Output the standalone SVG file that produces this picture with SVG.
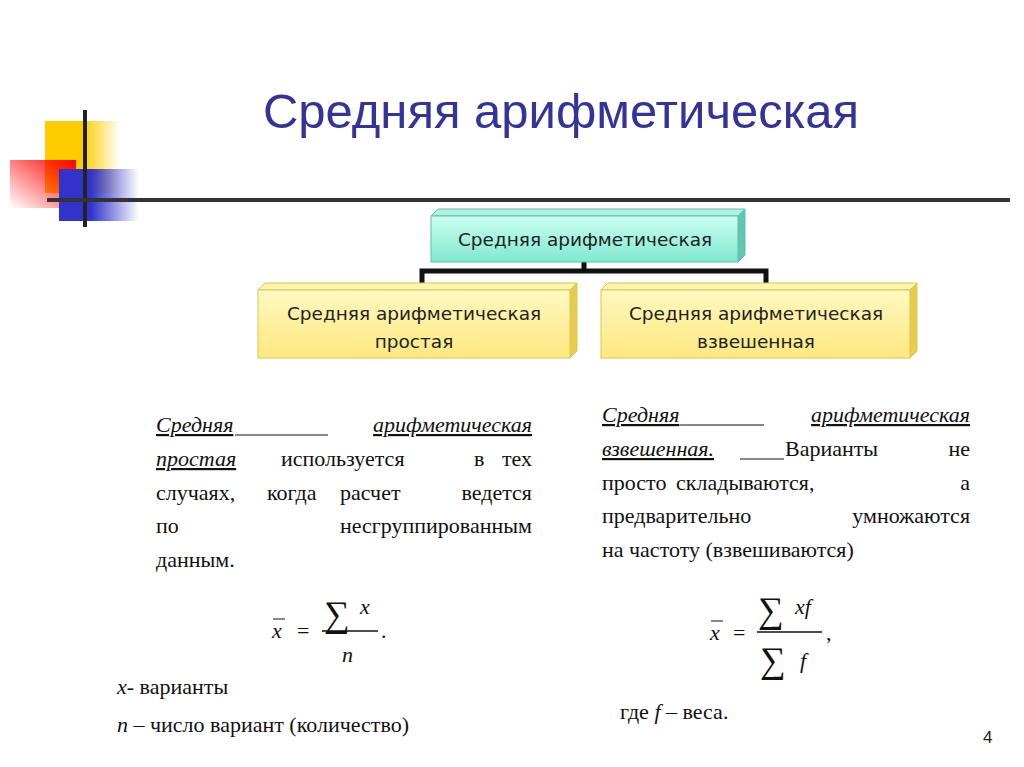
<svg xmlns="http://www.w3.org/2000/svg" width="1024" height="767" viewBox="0 0 1024 767">
<defs>
<linearGradient id="gy" x1="0" x2="1"><stop offset="0" stop-color="#ffcc00"/><stop offset="0.5" stop-color="#ffcc00"/><stop offset="1" stop-color="#ffcc00" stop-opacity="0"/></linearGradient>
<linearGradient id="gr" x1="1" y1="0" x2="0" y2="1"><stop offset="0" stop-color="#ff0000"/><stop offset="1" stop-color="#ff0000" stop-opacity="0"/></linearGradient>
<linearGradient id="gb" x1="0" x2="1"><stop offset="0" stop-color="#3333cc"/><stop offset="0.4" stop-color="#3333cc"/><stop offset="1" stop-color="#3333cc" stop-opacity="0"/></linearGradient>
<linearGradient id="gt" x1="0" y1="0" x2="0" y2="1"><stop offset="0" stop-color="#ccfff0"/><stop offset="1" stop-color="#80e8d0"/></linearGradient>
<linearGradient id="gyl" x1="0" y1="0" x2="0" y2="1"><stop offset="0" stop-color="#fff8c0"/><stop offset="1" stop-color="#ffe880"/></linearGradient>
</defs>
<style>
.s{font-family:"DejaVu Sans",Verdana,sans-serif;font-size:18.5px;fill:#222}
.r text{font-family:"Liberation Serif","DejaVu Serif","Times New Roman",serif;font-size:22px;fill:#111}
.i{font-style:italic}
.u{text-decoration:underline}
.box{stroke:#d8c850;stroke-width:1}
</style>
<rect width="1024" height="767" fill="#fff"/>
<g id="decor">
<rect x="45" y="121" width="75" height="72" fill="url(#gy)"/>
<rect x="10" y="160" width="66" height="48" fill="url(#gr)"/>
<rect x="59" y="169" width="80" height="52" fill="url(#gb)"/>
<line x1="85" y1="110" x2="85" y2="227" stroke="#222" stroke-width="4"/>
<line x1="47" y1="200" x2="1010" y2="200" stroke="#333" stroke-width="4"/>
</g>
<text x="561" y="128" text-anchor="middle" font-family="Liberation Sans,Arial,sans-serif" font-size="49" fill="#333399">Средняя арифметическая</text>
<g id="connectors" stroke="#111" stroke-width="5" fill="none">
<path d="M584 262V271M422 290V271H766V290"/>
</g>
<g id="top">
<polygon points="431,216 438,209 745,209 738,216" fill="#b0f0e0" stroke="#60c0a8"/>
<polygon points="738,216 745,209 745,255 738,262" fill="#60c8b0" stroke="#60c0a8"/>
<rect x="431" y="216" width="307" height="46" fill="url(#gt)" stroke="#60c0a8"/>
<text class="s" x="585" y="246" text-anchor="middle">Средняя арифметическая</text>
</g>
<g id="left">
<polygon points="258,290 265,283 577,283 570,290" fill="#fff4b0" class="box"/>
<polygon points="570,290 577,283 577,351 570,358" fill="#e8cc50" class="box"/>
<rect x="258" y="290" width="312" height="68" fill="url(#gyl)" class="box"/>
<text class="s" x="414" y="320" text-anchor="middle">Средняя арифметическая</text>
<text class="s" x="414" y="348" text-anchor="middle">простая</text>
</g>
<g id="right">
<polygon points="601,290 608,283 917,283 910,290" fill="#fff4b0" class="box"/>
<polygon points="910,290 917,283 917,351 910,358" fill="#e8cc50" class="box"/>
<rect x="601" y="290" width="309" height="68" fill="url(#gyl)" class="box"/>
<text class="s" x="756" y="320" text-anchor="middle">Средняя арифметическая</text>
<text class="s" x="756" y="348" text-anchor="middle">взвешенная</text>
</g>
<g id="leftText" class="r">
<text x="156" y="432" class="i u">Средняя</text>
<text x="532" y="432" text-anchor="end" class="i u">арифметическая</text>
<line x1="235" y1="435" x2="328" y2="435" stroke="#111" stroke-width="1"/>
<text x="156" y="466" class="i u">простая</text>
<text x="281" y="466">используется</text>
<text x="474" y="466">в</text>
<text x="532" y="466" text-anchor="end">тех</text>
<text x="156" y="500">случаях,</text>
<text x="267" y="500">когда</text>
<text x="340" y="500">расчет</text>
<text x="532" y="500" text-anchor="end">ведется</text>
<text x="156" y="533">по</text>
<text x="532" y="533" text-anchor="end">несгруппированным</text>
<text x="156" y="567">данным.</text>
<text x="272" y="638" class="i">x</text>
<line x1="273" y1="619" x2="285" y2="619" stroke="#111"/>
<text x="297" y="638">=</text>
<text x="324" y="626" style="font-size:36px">∑</text>
<text x="360" y="614" class="i">x</text>
<line x1="322" y1="631" x2="378" y2="631" stroke="#111" stroke-width="1.3"/>
<text x="342" y="662" class="i">n</text>
<text x="381" y="638">.</text>
<text x="117" y="694"><tspan class="i">x</tspan>- варианты</text>
<text x="117" y="732"><tspan class="i">n</tspan> – число вариант (количество)</text>
</g>
<g id="rightText" class="r">
<text x="602" y="422" class="i u">Средняя</text>
<text x="970" y="422" text-anchor="end" class="i u">арифметическая</text>
<line x1="680" y1="425" x2="764" y2="425" stroke="#111" stroke-width="1"/>
<text x="602" y="456"><tspan class="i u">взвешенная.</tspan></text>
<line x1="740" y1="459" x2="784" y2="459" stroke="#111" stroke-width="1"/>
<text x="785" y="456">Варианты</text>
<text x="970" y="456" text-anchor="end">не</text>
<text x="602" y="490">просто</text>
<text x="676" y="490">складываются,</text>
<text x="970" y="490" text-anchor="end">а</text>
<text x="602" y="523">предварительно</text>
<text x="970" y="523" text-anchor="end">умножаются</text>
<text x="602" y="557">на частоту (взвешиваются)</text>
<text x="710" y="640" class="i">x</text>
<line x1="711" y1="621" x2="723" y2="621" stroke="#111"/>
<text x="733" y="640">=</text>
<text x="758" y="622" style="font-size:36px">∑</text>
<text x="795" y="614" class="i">xf</text>
<line x1="757" y1="632" x2="822" y2="632" stroke="#111" stroke-width="1.3"/>
<text x="760" y="672" style="font-size:36px">∑</text>
<text x="800" y="668" class="i">f</text>
<text x="826" y="640">,</text>
<text x="620" y="719">где <tspan class="i">f</tspan> – веса.</text>
</g>
<text x="983" y="743" font-family="Liberation Sans,Arial,sans-serif" font-size="17" fill="#222">4</text>
</svg>
